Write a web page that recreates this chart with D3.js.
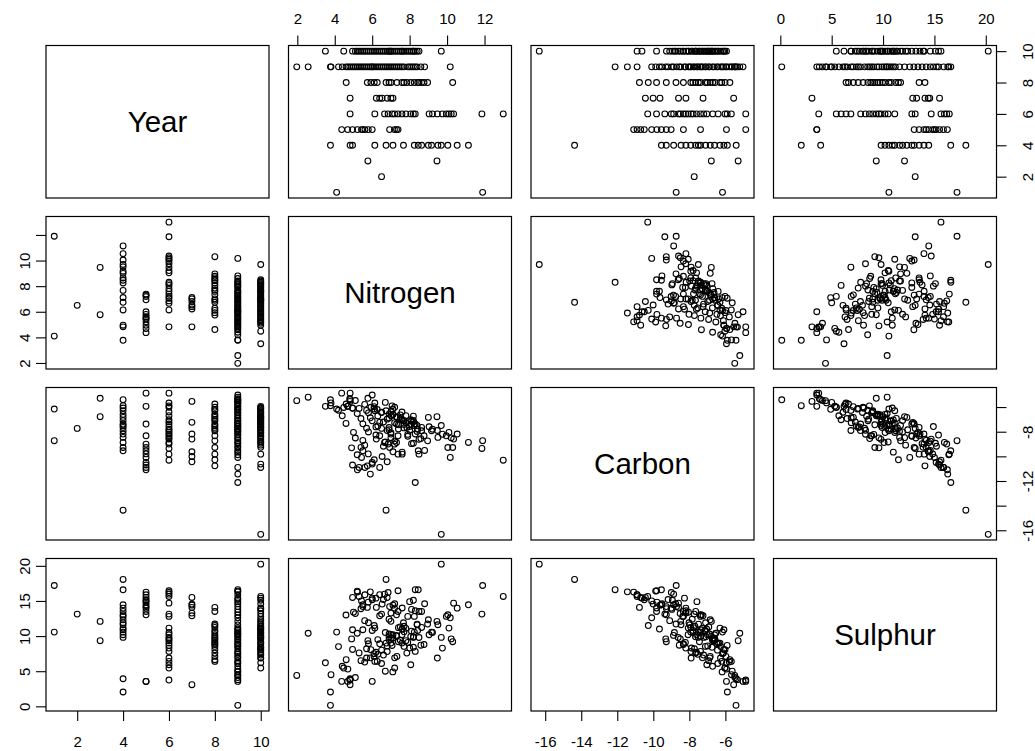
<!DOCTYPE html>
<html>
<head>
<meta charset="utf-8">
<script src="https://cdn.jsdelivr.net/npm/d3@7"></script>
<style>
  body { margin: 0; background: #fff; }
  svg { display: block; }
</style>
</head>
<body>
<div id="pairs"></div>
<script>
// Scatterplot matrix (R pairs() look) of Year / Nitrogen / Carbon / Sulphur

const varNames = ["Year", "Nitrogen", "Carbon", "Sulphur"];

// one entry per sample, grouped by year
const year = [
  1, 1,
  2,
  3, 3,
  4, 4, 4, 4, 4, 4, 4, 4, 4, 4, 4, 4, 4, 4, 4, 4, 4,
  5, 5, 5, 5, 5, 5, 5, 5, 5, 5, 5, 5, 5,
  6, 6, 6, 6, 6, 6, 6, 6, 6, 6, 6, 6, 6, 6, 6, 6, 6, 6, 6, 6, 6, 6,
  7, 7, 7, 7, 7, 7, 7,
  8, 8, 8, 8, 8, 8, 8, 8, 8, 8, 8, 8, 8, 8, 8, 8, 8, 8, 8, 8,
  9, 9, 9, 9, 9, 9, 9, 9, 9, 9, 9, 9, 9, 9, 9, 9, 9, 9, 9, 9, 9, 9, 9, 9,
  9, 9, 9, 9, 9, 9, 9, 9, 9, 9, 9, 9, 9, 9, 9, 9, 9, 9, 9, 9, 9, 9, 9, 9,
  10, 10, 10, 10, 10, 10, 10, 10, 10, 10, 10, 10, 10, 10, 10, 10, 10, 10, 10, 10, 10, 10,
  10, 10, 10, 10, 10, 10, 10, 10, 10, 10, 10, 10, 10, 10, 10, 10, 10, 10, 10, 10, 10
];

const nitrogen = [
  11.9, 4.1,
  6.5,
  9.46, 5.77,
  6.74, 8.46, 10.04, 11.14, 9.51, 10.54, 9.17, 8.64, 9.69, 8.25, 7.67, 9.0, 7.11, 6.14, 4.95, 4.82, 3.77,
  5.21, 5.61, 4.95, 6.0, 5.43, 5.79, 5.5, 6.93, 7.19, 7.38, 7.3, 4.69, 4.37,
  13.0, 7.38, 6.85, 11.86, 6.66, 10.35, 10.22, 9.96, 9.75, 10.1, 9.48, 9.22, 9.04, 8.30, 8.2, 8.06, 7.80, 7.59, 7.2, 7.06, 6.14, 4.82,
  6.80, 6.53, 7.11, 6.22, 7.0, 6.4, 4.82,
  5.74, 6.11, 8.5, 10.30, 8.96, 8.77, 8.64, 8.43, 7.85, 8.25, 8.06, 7.7, 7.59, 7.32, 7.01, 6.9, 6.74, 6.27, 5.93, 4.61,
  8.3, 5.9, 6.4, 10.17, 5.2, 7.6, 8.8, 4.9, 6.6, 8.1, 7.3, 5.5, 8.6, 7.0, 6.2, 7.9, 5.0, 8.4, 6.8, 7.4, 5.7, 8.0, 6.3, 7.7,
  4.6, 7.2, 6.0, 8.2, 5.4, 6.9, 4.4, 7.5, 5.8, 6.5, 4.2, 7.1, 5.3, 6.1, 4.7, 5.6, 3.8, 6.7, 5.1, 1.97, 3.77, 2.58, 4.8, 6.0,
  9.69, 5.3, 6.0, 7.6, 5.6, 8.2, 6.7, 7.2, 8.5, 5.1, 7.9, 6.4, 8.3, 7.0, 5.8, 8.0, 6.9, 7.7, 6.2, 8.4, 7.4, 5.5,
  7.8, 6.6, 8.1, 6.8, 7.5, 5.9, 7.3, 6.3, 7.1, 5.2, 6.5, 7.0, 5.7, 6.1, 4.95, 4.48, 3.5, 5.4, 6.9, 7.6, 8.2
];

const carbon = [
  -8.73, -6.16,
  -7.73,
  -6.78, -5.29,
  -14.37, -9.55, -9.28, -8.87, -8.46, -8.19, -7.92, -7.65, -7.5, -7.38, -7.1, -6.84, -6.6, -6.3, -6.08, -5.40, -5.89,
  -11.09, -10.90, -10.7, -10.50, -10.09, -9.8, -9.55, -9.28, -9.01, -8.33, -7.38, -5.94, -4.87,
  -10.31, -9.82, -9.0, -9.36, -8.87, -8.60, -8.5, -8.33, -8.2, -8.06, -7.9, -7.79, -7.6, -7.38, -7.2, -7.03, -6.70, -6.4, -6.02, -5.9, -5.67, -4.87,
  -10.44, -10.01, -9.63, -8.60, -8.19, -7.24, -5.54,
  -10.77, -10.28, -9.82, -9.28, -8.74, -8.33, -7.92, -7.8, -7.65, -7.5, -7.38, -7.11, -7.0, -6.84, -6.7, -6.57, -6.30, -6.2, -6.02, -5.75,
  -12.12, -11.44, -10.9, -10.09, -9.87, -9.66, -9.52, -9.31, -9.18, -8.97, -8.88, -8.71, -8.56, -8.48, -8.27, -8.22, -8.05, -7.98, -7.91, -7.77, -7.72, -7.58, -7.53, -7.41,
  -7.33, -7.27, -7.12, -7.08, -6.93, -6.88, -6.71, -6.63, -6.47, -6.42, -6.26, -6.18, -6.11, -5.97, -5.93, -5.78, -5.66, -5.62, -5.47, -5.48, -5.41, -5.2, -5.33, -5.02,
  -16.33, -10.9, -10.63, -9.82, -9.09, -8.94, -8.83, -8.76, -8.62, -8.51, -8.37, -8.33, -8.18, -8.07, -8.02, -7.88, -7.84, -7.69, -7.61, -7.49, -7.44, -7.36,
  -7.28, -7.21, -7.13, -6.98, -6.92, -6.87, -6.78, -6.72, -6.61, -6.53, -6.44, -6.38, -6.27, -6.16, -6.09, -6.03, -5.94, -9.27, -7.66, -7.04, -6.74
];

const sulphur = [
  17.2, 10.57,
  13.13,
  12.09, 9.34,
  18.06, 16.59, 13.03, 14.45, 11.61, 13.98, 10.57, 13.51, 9.81, 12.8, 11.9, 12.32, 10.19, 11.14, 10.9, 3.93, 2.04,
  16.26, 15.88, 15.50, 15.17, 15.0, 14.83, 14.45, 14.2, 13.98, 13.51, 13.03, 3.55, 3.55,
  15.64, 16.45, 16.2, 13.13, 15.97, 14.69, 9.6, 12.80, 8.29, 11.14, 6.87, 10.5, 10.19, 7.82, 9.81, 5.92, 9.34, 9.0, 5.45, 8.67, 6.40, 3.74,
  15.50, 14.55, 14.4, 14.08, 13.27, 12.89, 3.08,
  14.08, 11.5, 13.51, 9.2, 11.71, 8.8, 11.23, 10.8, 7.58, 10.57, 9.95, 8.53, 10.2, 7.11, 9.7, 9.48, 9.0, 6.40, 8.06, 6.64,
  16.6, 16.3, 15.9, 12.6, 16.4, 11.0, 14.6, 9.6, 15.2, 13.8, 10.1, 14.2, 8.7, 12.1, 15.4, 9.1, 13.4, 11.6, 7.8, 11.2, 8.2, 14.9, 7.4, 10.6,
  13.0, 6.9, 10.8, 9.9, 6.5, 10.3, 5.7, 9.4, 8.9, 6.1, 8.5, 4.9, 7.6, 7.1, 5.3, 6.3, 4.5, 5.0, 4.1, 4.4, 0.14, 10.4, 3.8, 3.55,
  20.24, 15.64, 15.4, 14.0, 12.2, 15.1, 10.5, 14.6, 9.8, 13.2, 12.8, 8.9, 13.6, 10.2, 11.9, 8.3, 12.4, 11.4, 7.7, 11.7, 9.2, 10.9,
  11.1, 7.3, 10.7, 8.6, 11.3, 6.9, 10.0, 9.5, 9.7, 10.4, 8.0, 9.0, 6.87, 7.5, 8.1, 5.45, 6.2, 13.9, 9.9, 11.0, 8.4
];

// tick values per variable
const yearTicks = [2, 4, 6, 8, 10];
const nitrogenTicks = [2, 4, 6, 8, 10, 12];
const carbonTicks = [-16, -14, -12, -10, -8, -6];
const sulphurTicks = [0, 5, 10, 15, 20];
// labels R kept on the side axes (others dropped for overlap)
const nitrogenLeftLabels = [2, 4, 6, 8, 10];
const carbonRightLabels = [-16, -12, -8];

function drawPairs() {
    d3.select("#pairs").selectAll("*").remove();

    const width = 1035;
    const height = 751;
    const left0 = 46, top0 = 45.5;
    const cellW = 223, cellH = 152.5;
    const stepX = 242.5, stepY = 171;
    const font = "'Liberation Sans', Arial, Helvetica, sans-serif";

    const vars = [year, nitrogen, carbon, sulphur];
    const ticks = [yearTicks, nitrogenTicks, carbonTicks, sulphurTicks];
    const n = vars.length;

    const svg = d3.select("#pairs")
        .append("svg")
        .attr("width", width)
        .attr("height", height);

    // R pads the data range by 4% on each side
    function padded(v) {
        const [a, b] = d3.extent(v);
        const p = (b - a) * 0.04;
        return [a - p, b + p];
    }

    const xs = vars.map((v, j) => d3.scaleLinear()
        .domain(padded(v))
        .range([left0 + j * stepX, left0 + j * stepX + cellW]));
    const ys = vars.map((v, i) => d3.scaleLinear()
        .domain(padded(v))
        .range([top0 + i * stepY + cellH, top0 + i * stepY]));

    for (let i = 0; i < n; i++) {
        for (let j = 0; j < n; j++) {
            const x0 = left0 + j * stepX;
            const y0 = top0 + i * stepY;

            if (i === j) {
                svg.append("text")
                    .attr("x", x0 + cellW / 2)
                    .attr("y", y0 + cellH / 2)
                    .attr("dy", "0.35em")
                    .attr("text-anchor", "middle")
                    .style("font-family", font)
                    .style("font-size", "29.5px")
                    .text(varNames[i]);
            } else {
                svg.append("g")
                    .selectAll("circle")
                    .data(d3.range(year.length))
                    .join("circle")
                    .attr("cx", k => xs[j](vars[j][k]))
                    .attr("cy", k => ys[i](vars[i][k]))
                    .attr("r", 2.9)
                    .attr("fill", "none")
                    .attr("stroke", "#000")
                    .attr("stroke-width", 1.1);
            }

            svg.append("rect")
                .attr("x", x0)
                .attr("y", y0)
                .attr("width", cellW)
                .attr("height", cellH)
                .attr("fill", "none")
                .attr("stroke", "#000")
                .attr("stroke-width", 1.2);
        }
    }

    function styleAxis(g) {
        g.select(".domain").remove();
        g.selectAll(".tick line").attr("stroke", "#000").attr("stroke-width", 1.1);
        g.selectAll(".tick text")
            .attr("fill", "#000")
            .style("font-family", font)
            .style("font-size", "15px");
    }

    const fmt = d => String(d);

    // top axes: Nitrogen and Sulphur columns
    [1, 3].forEach(j => {
        svg.append("g")
            .attr("transform", `translate(0,${top0})`)
            .call(d3.axisTop(xs[j]).tickValues(ticks[j]).tickFormat(fmt)
                .tickSize(10).tickPadding(12))
            .call(styleAxis);
    });

    // bottom axes: Year and Carbon columns
    [0, 2].forEach(j => {
        svg.append("g")
            .attr("transform", `translate(0,${top0 + 3 * stepY + cellH})`)
            .call(d3.axisBottom(xs[j]).tickValues(ticks[j]).tickFormat(fmt)
                .tickSize(10).tickPadding(15))
            .call(styleAxis);
    });

    // left axes: Nitrogen and Sulphur rows (labels parallel to axis)
    [1, 3].forEach(i => {
        const keep = i === 1 ? nitrogenLeftLabels : ticks[i];
        svg.append("g")
            .attr("transform", `translate(${left0},0)`)
            .call(d3.axisLeft(ys[i]).tickValues(ticks[i])
                .tickFormat(d => keep.includes(d) ? fmt(d) : "")
                .tickSize(10))
            .call(styleAxis)
            .selectAll(".tick text")
            .attr("x", 0).attr("y", 0)
            .attr("dy", "0.35em")
            .attr("text-anchor", "middle")
            .attr("transform", "translate(-21,0) rotate(-90)");
    });

    // right axes: Year and Carbon rows
    [0, 2].forEach(i => {
        const keep = i === 2 ? carbonRightLabels : ticks[i];
        svg.append("g")
            .attr("transform", `translate(${left0 + 3 * stepX + cellW},0)`)
            .call(d3.axisRight(ys[i]).tickValues(ticks[i])
                .tickFormat(d => keep.includes(d) ? fmt(d) : "")
                .tickSize(10))
            .call(styleAxis)
            .selectAll(".tick text")
            .attr("x", 0).attr("y", 0)
            .attr("dy", "0.35em")
            .attr("text-anchor", "middle")
            .attr("transform", "translate(31,0) rotate(-90)");
    });
}

document.addEventListener("DOMContentLoaded", drawPairs);
</script>
</body>
</html>
